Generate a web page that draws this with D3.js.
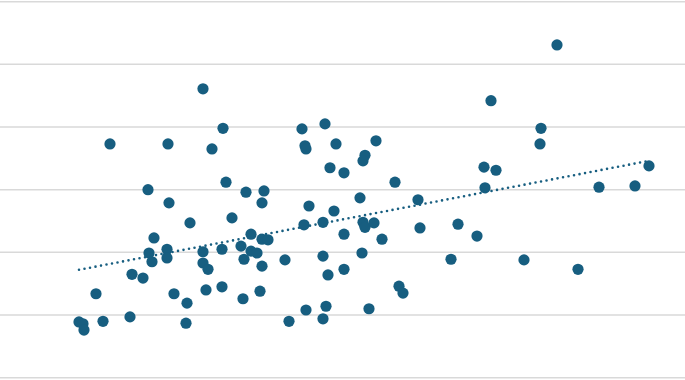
<!DOCTYPE html>
<html>
<head>
<meta charset="utf-8">
<style>
  body { margin: 0; background: #fff; }
</style>
<script src="https://cdn.jsdelivr.net/npm/d3@7"></script>
</head>
<body>
<script>
var w = 685,
    h = 380;

// x values (arbitrary units) and y values for each point
var xValues = [
  7.9, 8.3, 8.4, 9.6, 10.3, 11.0, 13.0, 13.2, 14.3, 14.8,
  15.4, 14.9, 15.2, 16.8, 16.9, 16.7, 16.7, 17.4, 18.7, 18.6,
  19.0, 20.3, 20.3, 20.3, 20.8, 20.6, 21.2, 22.3, 22.2, 22.2,
  22.6, 23.2, 24.6, 26.4, 26.2, 30.9, 33.4, 36.0, 41.8, 25.1,
  26.2, 26.8, 30.4, 32.3, 36.3, 36.5, 37.4, 34.4, 38.2, 42.0,
  45.8, 24.1, 25.1, 25.7, 24.4, 26.2, 28.5, 32.3, 32.8, 34.4,
  36.2, 45.1, 24.3, 26.0, 30.6, 32.6, 32.3, 28.9, 36.9, 39.9,
  40.3, 30.2, 32.5, 30.5, 30.6, 33.6, 37.6, 36.5, 36.3, 33.0,
  34.4, 39.5, 55.7, 49.1, 54.1, 54.0, 48.4, 49.6, 64.9, 48.5,
  59.9, 63.5, 47.7, 52.4, 57.8
];

var yValues = [
  8.9, 8.6, 7.6, 13.4, 9.0, 37.3, 9.7, 16.5, 15.9, 30.0,
  22.3, 19.9, 18.5, 37.3, 27.9, 20.5, 19.1, 13.4, 11.9, 8.7,
  24.7, 46.1, 20.1, 18.3, 17.3, 14.0, 36.5, 39.8, 20.5, 14.5,
  31.2, 25.5, 29.6, 29.8, 27.9, 27.4, 26.6, 28.7, 28.4, 22.9,
  22.1, 22.0, 24.4, 24.8, 24.8, 24.0, 24.7, 22.9, 22.1, 23.9,
  24.5, 21.0, 20.2, 19.9, 18.9, 17.8, 18.8, 19.4, 16.4, 17.3,
  19.9, 18.9, 12.6, 13.8, 10.8, 11.4, 9.4, 9.0, 11.0, 14.6,
  13.5, 39.7, 40.5, 37.0, 36.5, 37.3, 37.8, 35.5, 34.6, 33.5,
  32.7, 31.2, 53.1, 44.2, 39.8, 37.3, 33.6, 33.1, 33.8, 30.3,
  30.4, 30.6, 22.6, 18.8, 17.3
];

var yTicks = [0, 10, 20, 30, 40, 50, 60];

var points = xValues.map(function(x, i) {
  return { x: x, y: yValues[i] };
});

var svg = d3.select('body')
            .append('svg')
            .attr('width', w)
            .attr('height', h);

var x = d3.scaleLinear()
          .domain([0, 68.5])
          .range([0, w]);

var y = d3.scaleLinear()
          .domain([0, 60])
          .range([377.7, 1.7]);

// horizontal gridlines
svg.selectAll('line.grid')
   .data(yTicks)
   .enter()
   .append('line')
   .attr('class', 'grid')
   .attr('x1', 0)
   .attr('x2', w)
   .attr('y1', function(d) { return y(d); })
   .attr('y2', function(d) { return y(d); })
   .style('stroke', '#d9d9d9')
   .style('stroke-width', 1.5);

// least squares trendline, from min x to max x
var mx = d3.mean(points, function(d) { return d.x; }),
    my = d3.mean(points, function(d) { return d.y; });
var sxy = d3.sum(points, function(d) { return (d.x - mx) * (d.y - my); }),
    sxx = d3.sum(points, function(d) { return (d.x - mx) * (d.x - mx); });
var slope = sxy / sxx,
    intercept = my - slope * mx;
var xExt = d3.extent(points, function(d) { return d.x; });
var trend = xExt.map(function(v) { return { x: v, y: intercept + slope * v }; });

svg.append('path')
   .datum(trend)
   .attr('d', d3.line()
                .x(function(d) { return x(d.x); })
                .y(function(d) { return y(d.y); }))
   .style('fill', 'none')
   .style('stroke', '#175e80')
   .style('stroke-width', 2.6)
   .style('stroke-linecap', 'round')
   .style('stroke-dasharray', '0 5.6');

svg.selectAll('circle')
   .data(points)
   .enter()
   .append('circle')
   .attr('cx', function(d) { return x(d.x); })
   .attr('cy', function(d) { return y(d.y); })
   .attr('r', 5.6)
   .style('fill', '#175e80');
</script>
</body>
</html>
